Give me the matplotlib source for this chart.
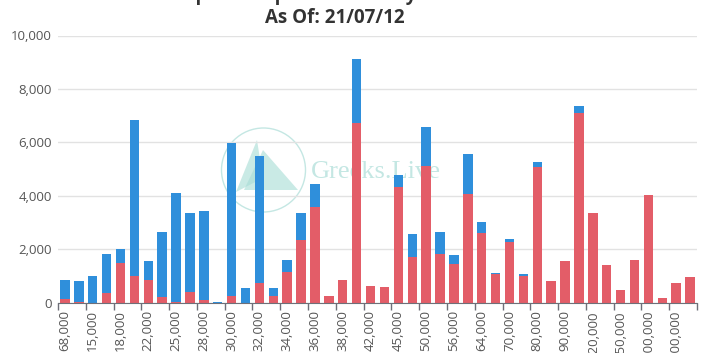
import matplotlib.pyplot as plt
import matplotlib.patches as mpatches
import numpy as np

# strikes (every other one is labelled on the axis)
strikes = ["68,000", "10,000", "15,000", "16,000", "18,000", "20,000", "22,000", "24,000",
           "25,000", "26,000", "28,000", "29,000", "30,000", "31,000", "32,000", "33,000",
           "34,000", "35,000", "36,000", "37,000", "38,000", "40,000", "42,000", "44,000",
           "45,000", "48,000", "50,000", "52,000", "56,000", "60,000", "64,000", "65,000",
           "70,000", "75,000", "80,000", "85,000", "90,000", "100,000", "120,000", "140,000",
           "150,000", "160,000", "200,000", "250,000", "300,000", "400,000"]

# bottom (red) series
puts = [140, 30, 0, 360, 1490, 975, 850, 200, 30, 390, 100, 0, 260, 0, 740, 240,
        1140, 2350, 3580, 260, 850, 6730, 610, 590, 4320, 1710, 5130, 1835, 1450, 4070,
        2600, 1050, 2260, 975, 5070, 790, 1550, 7100, 3370, 1400, 450, 1600, 4030, 150,
        725, 950]

# top (blue) series
calls = [710, 770, 975, 1460, 510, 5865, 700, 2450, 4070, 2980, 3330, 20, 5720, 540,
         4750, 320, 470, 1020, 850, 0, 0, 2400, 0, 0, 440, 840, 1450, 795, 335, 1500,
         400, 60, 125, 85, 210, 0, 0, 250, 0, 0, 0, 0, 0, 0, 0, 0]

yticks = [0, 2000, 4000, 6000, 8000, 10000]
title_top = "BTC Options Open Interest by Strike Price"
title_date = "As Of: 21/07/12"

RED = '#e35d68'
BLUE = '#2f8fdb'
GREY = '#6e7079'

plt.rcParams['font.family'] = ['Open Sans', 'DejaVu Sans']

W, H = 705, 353
fig = plt.figure(figsize=(W / 100, H / 100), dpi=100)


def px(x, y):
    return x / W, 1 - y / H


# faint watermark, drawn behind the axes
wm = '#c4e7e3'
fig.add_artist(mpatches.Ellipse(px(263.5, 170), 84 / W, 84 / H, fill=False,
                                edgecolor=wm, linewidth=1, transform=fig.transFigure,
                                zorder=-2))
tri1 = [px(257, 140), px(236, 192), px(263, 178)]
tri2 = [px(263, 150), px(298, 190), px(244, 190)]
for t in (tri1, tri2):
    fig.add_artist(mpatches.Polygon(t, closed=True, facecolor='#a6dcd5', edgecolor='none',
                                    alpha=0.6, transform=fig.transFigure, zorder=-2))
fig.text(*px(311, 178), "Greeks.Live", ha='left', va='baseline', fontsize=19,
         family='Liberation Serif', color=wm, zorder=-2)

ax = fig.add_axes([58 / W, 1 - 302.5 / H, (697 - 58) / W, (302.5 - 35.5) / H])
ax.set_facecolor('none')

x = np.arange(len(strikes))
ax.bar(x, puts, width=0.68, color=RED, zorder=3)
ax.bar(x, calls, width=0.68, bottom=puts, color=BLUE, zorder=3)

ax.set_xlim(-0.5, len(strikes) - 0.5)
ax.set_ylim(0, 10000)

ax.set_yticks(yticks)
ax.set_yticklabels([f"{v:,}" for v in yticks])
ax.tick_params(axis='y', length=0, pad=4.5, labelsize=9.5, labelcolor='#555555')
ax.grid(axis='y', color='#e2e2e2', linewidth=1, zorder=0)

# boundary ticks every two categories, labels on every other bar
ax.set_xticks(np.arange(-0.5, len(strikes), 2))
ax.set_xticklabels([])
ax.tick_params(axis='x', which='major', length=5, width=1, color=GREY)
ax.set_xticks(x[::2], minor=True)
ax.set_xticklabels(strikes[::2], minor=True, rotation=90)
ax.tick_params(axis='x', which='minor', length=0, pad=5.5, labelsize=9.5, labelcolor='#555555')

for s in ['top', 'right', 'left']:
    ax.spines[s].set_visible(False)
ax.spines['bottom'].set_color(GREY)
ax.spines['bottom'].set_zorder(4)

# titles (first line cut off by the top edge)
fig.text(*px(335, 0), title_top, ha='center', va='baseline', fontsize=13.5,
         fontweight='bold', color='#333333')
fig.text(*px(335, 23), title_date, ha='center', va='baseline', fontsize=13.5,
         fontweight='bold', color='#333333')

fig.savefig('out.png', dpi=100)
